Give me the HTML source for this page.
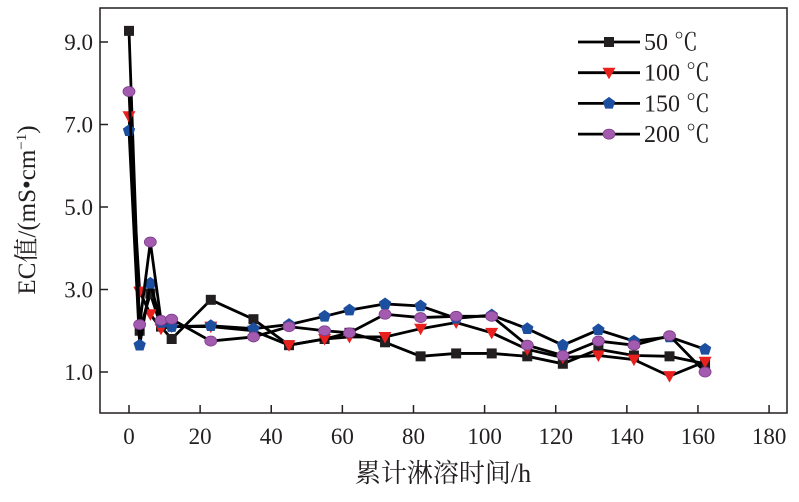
<!DOCTYPE html>
<html><head><meta charset="utf-8"><style>
body{margin:0;background:#fff}
text{font-family:"Liberation Serif","Noto Serif CJK SC",serif;fill:#231f20}
</style></head><body>
<svg id="chart" width="799" height="497" xmlns="http://www.w3.org/2000/svg"></svg>
<script>
const xValues=[0,3,6,9,12,23,35,45,55,62,72,82,92,102,112,122,132,142,152,162];
const s50=[9.27,2.0,2.9,2.1,1.8,2.75,2.28,1.65,1.8,1.95,1.72,1.38,1.45,1.45,1.38,1.2,1.55,1.4,1.38,1.2];
const s100=[7.2,2.95,2.4,2.05,2.1,2.1,2.0,1.65,1.8,1.85,1.85,2.05,2.2,1.95,1.55,1.35,1.4,1.3,0.9,1.25];
const s150=[6.85,1.65,3.15,2.2,2.1,2.12,2.05,2.15,2.35,2.5,2.65,2.6,2.3,2.38,2.05,1.65,2.02,1.75,1.85,1.55];
const s200=[7.8,2.15,4.15,2.25,2.28,1.75,1.85,2.1,2.0,1.95,2.4,2.32,2.35,2.35,1.65,1.4,1.75,1.65,1.88,1.0];
const xTicks=[0,20,40,60,80,100,120,140,160,180];
const yTicks=[1.0,3.0,5.0,7.0,9.0];
const seriesNames=["50 ℃","100 ℃","150 ℃","200 ℃"];
const svg=document.getElementById('chart');
const NS='http://www.w3.org/2000/svg';
const X=v=>129+v*3.556, Y=v=>372-(v-1)*41.25;
function mk(tag,attrs,parent){const e=document.createElementNS(NS,tag);for(const k in attrs)e.setAttribute(k,attrs[k]);(parent||svg).appendChild(e);return e;}
const frame=mk('rect',{x:100,y:8,width:687,height:405,fill:'none',stroke:'#231f20','stroke-width':1.5});


xTicks.forEach(t=>{
 const l=mk('line',{x1:X(t),x2:X(t),y1:413,y2:405,stroke:'#231f20','stroke-width':1.5});
 
 
 const tx=mk('text',{x:X(t),y:444,'text-anchor':'middle','font-size':23});tx.textContent=t;
 
 
});
yTicks.forEach(t=>{
 const l=mk('line',{x1:100,x2:108,y1:Y(t),y2:Y(t),stroke:'#231f20','stroke-width':1.5});
 
 
 const tx=mk('text',{x:93,y:Y(t)+8,'text-anchor':'end','font-size':23});tx.textContent=t.toFixed(1);
 
 
});
const xt=mk('text',{x:443,y:482,'text-anchor':'middle','font-size':26});xt.textContent='累计淋溶时间/h';


const yt=mk('text',{x:0,y:0,'text-anchor':'middle','font-size':25,transform:'translate(35,210) rotate(-90)'});
yt.innerHTML='EC值/(mS•cm<tspan font-size="15" dy="-9">−1</tspan><tspan dy="9">)</tspan>';


function marker(type,x,y,g){
 if(type==0)return mk('rect',{x:x-5,y:y-5,width:10,height:10,fill:'#231f20'},g);
 if(type==1)return mk('polygon',{points:`${x-6.5},${y-5} ${x+6.5},${y-5} ${x},${y+6.5}`,fill:'#e8211f'},g);
 if(type==2){let p=[];for(let i=0;i<5;i++){const a=-Math.PI/2+i*2*Math.PI/5;p.push((x+6.5*Math.cos(a))+','+(y+6.5*Math.sin(a)));}return mk('polygon',{points:p.join(' '),fill:'#1c4fa0'},g);}
 return mk('ellipse',{cx:x,cy:y,rx:6,ry:5,fill:'#a35bb0',stroke:'#7d3c8a','stroke-width':0.8},g);
}
[s50,s100,s150,s200].forEach((s,i)=>{
 const g=mk('g',{});
 
 
 const pl=mk('polyline',{points:s.map((v,j)=>X(xValues[j])+','+Y(v)).join(' '),fill:'none',stroke:'#000','stroke-width':2.8},g);
 
 
 s.forEach((v,j)=>{const m=marker(i,X(xValues[j]),Y(v),g);
  
  });
 const ly=42+i*30.7;
 const lg=mk('g',{},svg);
 
 
 mk('line',{x1:578,x2:640,y1:ly,y2:ly,stroke:'#000','stroke-width':2.8},lg);
 marker(i,609,ly,lg);
 const lt=mk('text',{x:644,y:ly+8,'font-size':24},lg);lt.textContent=seriesNames[i];
});
</script>
</body></html>
